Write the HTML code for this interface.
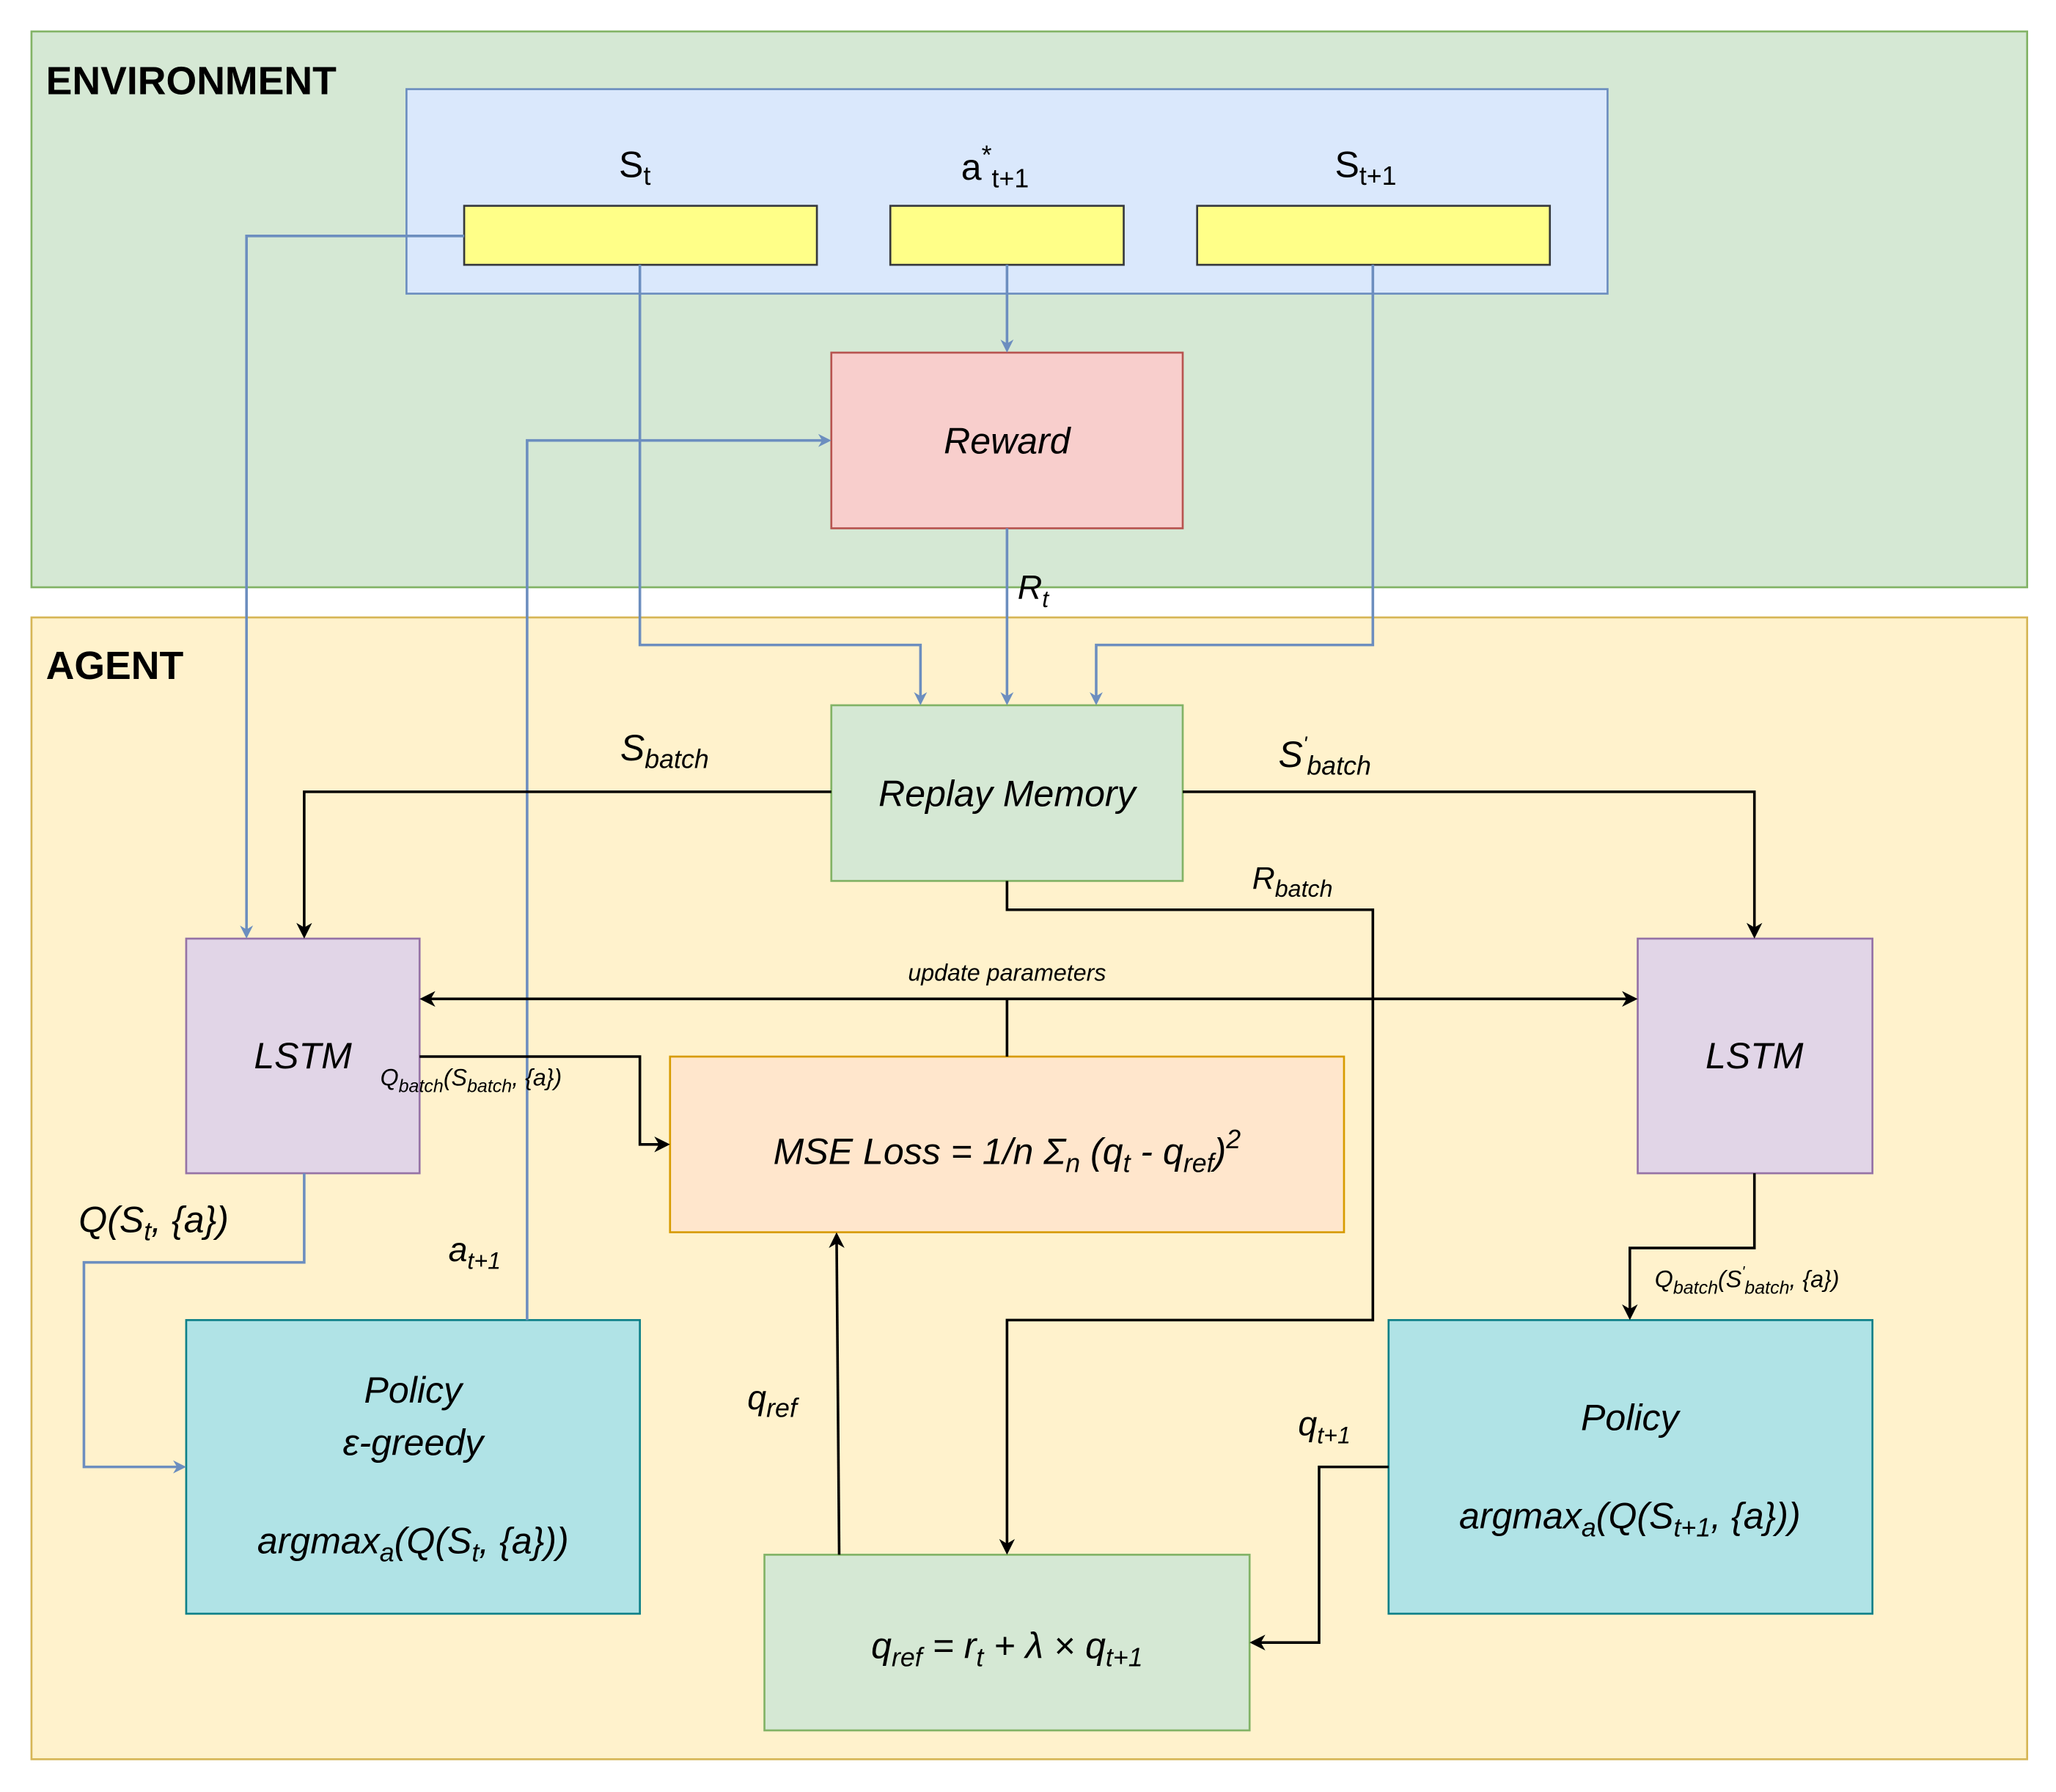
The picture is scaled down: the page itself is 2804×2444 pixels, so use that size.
<!DOCTYPE html>
<html><head><meta charset="utf-8"><style>
html,body{margin:0;padding:0;background:#fff;}
svg{display:block;}
text{font-family:"Liberation Sans",sans-serif;font-style:italic;fill:#000;}
</style></head><body>
<svg width="2804" height="2444" viewBox="0 0 1568 1367" preserveAspectRatio="none" xmlns="http://www.w3.org/2000/svg">
<defs>
<marker id="ab" markerWidth="10" markerHeight="10" refX="8" refY="5" orient="auto" markerUnits="userSpaceOnUse"><path d="M0,0 L10,5 L0,10 L3,5 z" fill="#6c8ebf"/></marker>
<marker id="ak" markerWidth="12" markerHeight="12" refX="10" refY="6" orient="auto-start-reverse" markerUnits="userSpaceOnUse"><path d="M0,0 L12,6 L0,12 L3.5,6 z" fill="#000"/></marker>
</defs>
<rect x="24" y="24" width="1522" height="424" fill="#d5e8d4" stroke="#82b366" stroke-width="1.5"/>
<rect x="24" y="471" width="1522" height="871" fill="#fff2cc" stroke="#d6b656" stroke-width="1.5"/>
<text x="35" y="72" font-size="30" font-weight="bold" style="font-style:normal">ENVIRONMENT</text>
<text x="35" y="518" font-size="30" font-weight="bold" style="font-style:normal">AGENT</text>
<rect x="310" y="68" width="916" height="156" fill="#dae8fc" stroke="#6c8ebf" stroke-width="1.5"/>
<rect x="354" y="157" width="269" height="45" fill="#ffff88" stroke="#36393d" stroke-width="1.5"/>
<rect x="679" y="157" width="178" height="45" fill="#ffff88" stroke="#36393d" stroke-width="1.5"/>
<rect x="913" y="157" width="269" height="45" fill="#ffff88" stroke="#36393d" stroke-width="1.5"/>
<text x="472" y="135" font-size="28" style="font-style:normal">S<tspan font-size="20" dy="6">t</tspan></text>
<text x="733" y="137" font-size="28" style="font-style:normal">a<tspan font-size="20" dy="-12">*</tspan><tspan font-size="20" dy="18">t+1</tspan></text>
<text x="1018" y="135" font-size="28" style="font-style:normal">S<tspan font-size="20" dy="6">t+1</tspan></text>

<rect x="634" y="269" width="268" height="134" fill="#f8cecc" stroke="#b85450" stroke-width="1.5"/>
<text x="768" y="346" font-size="28" text-anchor="middle">Reward</text>
<rect x="634" y="538" width="268" height="134" fill="#d5e8d4" stroke="#82b366" stroke-width="1.5"/>
<text x="768" y="615" font-size="28" text-anchor="middle">Replay Memory</text>
<rect x="142" y="716" width="178" height="179" fill="#e1d5e7" stroke="#9673a6" stroke-width="1.5"/>
<text x="231" y="815" font-size="28" text-anchor="middle">LSTM</text>
<rect x="1249" y="716" width="179" height="179" fill="#e1d5e7" stroke="#9673a6" stroke-width="1.5"/>
<text x="1338" y="815" font-size="28" text-anchor="middle">LSTM</text>
<rect x="511" y="806" width="514" height="134" fill="#ffe6cc" stroke="#d79b00" stroke-width="1.5"/>
<text x="768" y="888" font-size="28" text-anchor="middle">MSE Loss = 1/n Σ<tspan font-size="20" dy="6">n</tspan><tspan dy="-6"> (q</tspan><tspan font-size="20" dy="6">t</tspan><tspan dy="-6"> - q</tspan><tspan font-size="20" dy="6">ref</tspan><tspan dy="-6">)</tspan><tspan font-size="20" dy="-12">2</tspan></text>
<rect x="142" y="1007" width="346" height="224" fill="#b0e3e6" stroke="#0e8088" stroke-width="1.5"/>
<text x="315" y="1070" font-size="28" text-anchor="middle">Policy</text>
<text x="315" y="1110" font-size="28" text-anchor="middle">ε-greedy</text>
<text x="315" y="1185" font-size="28" text-anchor="middle">argmax<tspan font-size="20" dy="6">a</tspan><tspan dy="-6">(Q(S</tspan><tspan font-size="20" dy="6">t</tspan><tspan dy="-6">, {a}))</tspan></text>
<rect x="1059" y="1007" width="369" height="224" fill="#b0e3e6" stroke="#0e8088" stroke-width="1.5"/>
<text x="1243" y="1091" font-size="28" text-anchor="middle">Policy</text>
<text x="1243" y="1166" font-size="28" text-anchor="middle">argmax<tspan font-size="20" dy="6">a</tspan><tspan dy="-6">(Q(S</tspan><tspan font-size="20" dy="6">t+1</tspan><tspan dy="-6">, {a}))</tspan></text>
<rect x="583" y="1186" width="370" height="134" fill="#d5e8d4" stroke="#82b366" stroke-width="1.5"/>
<text x="768" y="1265" font-size="28" text-anchor="middle">q<tspan font-size="20" dy="6">ref</tspan><tspan dy="-6"> = r</tspan><tspan font-size="20" dy="6">t</tspan><tspan dy="-6"> + λ × q</tspan><tspan font-size="20" dy="6">t+1</tspan></text>

<g fill="none" stroke="#6c8ebf" stroke-width="2">
<path d="M354,180 H188 V714" marker-end="url(#ab)"/>
<path d="M488,202 V492 H702 V536" marker-end="url(#ab)"/>
<path d="M768,202 V267" marker-end="url(#ab)"/>
<path d="M1047,202 V492 H836 V536" marker-end="url(#ab)"/>
<path d="M768,403 V536" marker-end="url(#ab)"/>
<path d="M402,1007 V336 H632" marker-end="url(#ab)"/>
<path d="M232,895 V963 H64 V1119 H140" marker-end="url(#ab)"/>
</g>
<g fill="none" stroke="#000" stroke-width="2">
<path d="M634,604 H232 V714" marker-end="url(#ak)"/>
<path d="M902,604 H1338 V714" marker-end="url(#ak)"/>
<path d="M768,672 V694 H1047 V1007 H768 V1184" marker-end="url(#ak)"/>
<path d="M768,806 V762"/>
<path d="M322,762 H1247" marker-start="url(#ak)" marker-end="url(#ak)"/>
<path d="M320,806 H488 V873 H509" marker-end="url(#ak)"/>
<path d="M1338,895 V952 H1243 V1005" marker-end="url(#ak)"/>
<path d="M1059,1119 H1006 V1253 H955" marker-end="url(#ak)"/>
<path d="M640,1186 L638,942" marker-end="url(#ak)"/>
</g>
<text x="776" y="457" font-size="26">R<tspan font-size="18" dy="6">t</tspan></text>
<text x="473" y="580" font-size="28">S<tspan font-size="20" dy="6">batch</tspan></text>
<text x="975" y="585" font-size="28">S<tspan font-size="16" dy="-12">'</tspan><tspan font-size="20" dy="18">batch</tspan></text>
<text x="955" y="678" font-size="24">R<tspan font-size="18" dy="6">batch</tspan></text>
<text x="768" y="748" font-size="18" text-anchor="middle">update parameters</text>
<text x="290" y="828" font-size="18">Q<tspan font-size="14" dy="5">batch</tspan><tspan dy="-5">(S</tspan><tspan font-size="14" dy="5">batch</tspan><tspan dy="-5">, {a})</tspan></text>
<text x="1262" y="982" font-size="18">Q<tspan font-size="14" dy="5">batch</tspan><tspan dy="-5">(S</tspan><tspan font-size="12" dy="-8">'</tspan><tspan font-size="14" dy="13">batch</tspan><tspan dy="-5">, {a})</tspan></text>
<text x="60" y="940" font-size="28">Q(S<tspan font-size="20" dy="6">t</tspan><tspan dy="-6">, {a})</tspan></text>
<text x="342" y="962" font-size="26">a<tspan font-size="18" dy="6">t+1</tspan></text>
<text x="570" y="1075" font-size="26">q<tspan font-size="20" dy="6">ref</tspan></text>
<text x="990" y="1095" font-size="26">q<tspan font-size="18" dy="6">t+1</tspan></text>
</svg>
</body></html>
